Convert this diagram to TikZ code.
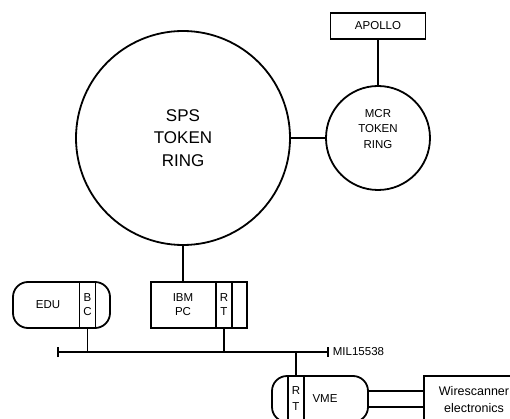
\documentclass[tikz,border=0pt]{standalone}
\usepackage{fontspec}
\setmainfont{Liberation Sans}
\usetikzlibrary{arrows.meta, positioning, calc}

\newcommand\smalllbl{\fontsize{11.5}{14}\selectfont}

\begin{document}
\begin{tikzpicture}[
    x=1pt, y=-1pt,
    line width=1.8pt,
    ring/.style={draw, circle, inner sep=0pt, align=center},
    unitbox/.style={draw, rectangle, inner sep=0pt, font=\smalllbl},
    capsule/.style={
      draw, rectangle, rounded corners=15pt, inner sep=0pt,
      minimum width=96pt, minimum height=46pt
    },
    portbox/.style={
      draw, rectangle, inner sep=0pt, minimum width=16pt,
      minimum height=46pt, align=center, font=\smalllbl
    },
    lbl/.style={inner sep=0pt, align=center, font=\smalllbl},
    bus tip/.style={{Bar[width=10pt]}-{Bar[width=10pt]}},
  ]

  %% ---- page: 510 x 419 px, 1px = 1pt ----
  \useasboundingbox (0,0) rectangle (510,419);
  \clip (0,0) rectangle (510,419);

  %% ---- token rings ----
  \node[ring, minimum size=214pt,
        font=\fontsize{17}{22.5}\selectfont]
    (sps) at (183,138) {SPS\\TOKEN\\RING};
  \node[ring, minimum size=104pt] (mcr) at (378,138) {};
  \node[lbl, font=\fontsize{11.5}{15.5}\selectfont]
    (mcrtxt) at ([yshift=9pt]mcr.center) {MCR\\TOKEN\\RING};

  \node[unitbox, minimum width=95pt, minimum height=26pt]
    (apollo) at (378,26) {APOLLO};

  \draw (sps) -- (mcr);
  \draw (apollo) -- (mcr);

  %% ---- units on the bus ----
  % EDU with bus controller
  \node[capsule, minimum width=97pt] (edu) at (61.5,305) {};
  \node[portbox] (bc) at (87.5,305) {B\\C};
  \node[lbl] (edutxt) at (48,305) {EDU};

  % IBM PC with remote terminal
  \node[unitbox, minimum width=96pt, minimum height=46pt]
    (ibm) at (199,305) {};
  \node[portbox] (ibmrt) at (224,305) {R\\T};
  \node[lbl] (ibmtxt) at (183,305) {IBM\\PC};

  \draw (sps.south) -- (sps.south |- ibm.north);

  % VME with remote terminal
  \node[capsule] (vme) at (320,399) {};
  \node[portbox, font=\fontsize{11.5}{16}\selectfont]
    (vmert) at (296,399) {R\\T};
  \node[lbl] (vmetxt) at (325,399) {VME};

  % wirescanner electronics
  \node[unitbox, minimum width=106pt, minimum height=48pt]
    (ws) at (477,400) {};
  \node[lbl, font=\fontsize{12.5}{17}\selectfont]
    (wstxt) at (474,400) {Wirescanner\\electronics};

  \draw ([yshift=8pt]vme.east) -- ([yshift=8pt]vme.east -| ws.west);
  \draw ([yshift=-8pt]vme.east) -- ([yshift=-8pt]vme.east -| ws.west);

  %% ---- MIL 1553 bus ----
  \coordinate (busW) at (57,352);
  \coordinate (busE) at (329,352);
  \draw[bus tip] (busW) -- (busE);
  \node[lbl, anchor=west] (miltxt) at ([xshift=3pt]busE) {MIL15538};

  \draw (bc.south) -- (bc.south |- busW);
  \draw (ibmrt.south) -- (ibmrt.south |- busW);
  \draw (vmert.north) -- (vmert.north |- busW);

\end{tikzpicture}
\end{document}
